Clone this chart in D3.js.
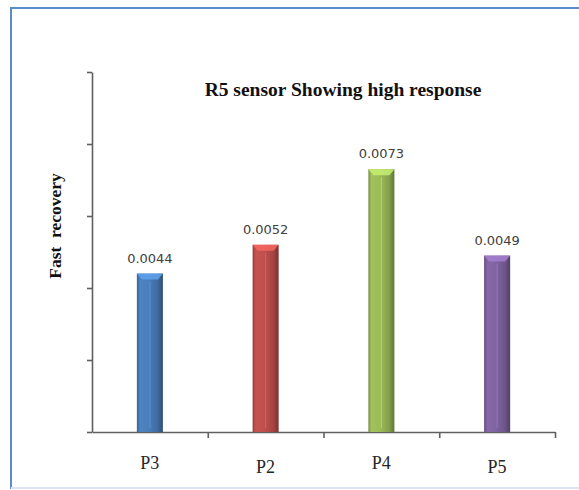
<!DOCTYPE html>
<html>
<head>
<meta charset="utf-8">
<script src="https://cdn.jsdelivr.net/npm/d3@7/dist/d3.min.js"></script>
<style>
  html, body { margin: 0; padding: 0; background: #ffffff; }
  svg { display: block; }
</style>
</head>
<body>
<script>
// Chart data
const categories = ["P3", "P2", "P4", "P5"];
const values = [0.0044, 0.0052, 0.0073, 0.0049];
const valueLabels = ["0.0044", "0.0052", "0.0073", "0.0049"];
const barColors = ["#4a7ebb", "#c0504d", "#9bbb59", "#8064a2"];
const yTicks = [0, 0.002, 0.004, 0.006, 0.008, 0.01];
const title = "R5 sensor Showing high response";
const yTitle = "Fast\u00a0\u00a0recovery";

const W = 579, H = 490;
const plot = { left: 92, right: 555, top: 72, bottom: 432 };

const svg = d3.select("body").append("svg")
  .attr("width", W).attr("height", H);

// Frame around the chart
svg.append("rect").attr("x", 0).attr("y", 0).attr("width", W).attr("height", H).attr("fill", "#fff");
svg.append("line").attr("x1", 11).attr("y1", 8).attr("x2", W).attr("y2", 8)
  .attr("stroke", "#5b8ccb").attr("stroke-width", 2);
svg.append("line").attr("x1", 11).attr("y1", 7).attr("x2", 11).attr("y2", 489)
  .attr("stroke", "#5b8ccb").attr("stroke-width", 2);
svg.append("line").attr("x1", 11).attr("y1", 488).attr("x2", W).attr("y2", 488)
  .attr("stroke", "#dbe5f1").attr("stroke-width", 2);

// Scales
const x = d3.scaleBand().domain(categories).range([plot.left, plot.right]).padding(0);
const xEdges = d3.scaleLinear().domain([0, categories.length]).range([plot.left, plot.right]);
const y = d3.scaleLinear().domain([0, 0.01]).range([plot.bottom, plot.top]);

const barW = x.bandwidth() * 0.225;

// Gradients for the bevelled bar look
const defs = svg.append("defs");
barColors.forEach((c, i) => {
  const base = d3.color(c);
  const g = defs.append("linearGradient").attr("id", "bar" + i)
    .attr("x1", "0").attr("x2", "1").attr("y1", "0").attr("y2", "0");
  g.append("stop").attr("offset", "0").attr("stop-color", base.darker(0.7));
  g.append("stop").attr("offset", "0.12").attr("stop-color", base.brighter(0.1));
  g.append("stop").attr("offset", "0.45").attr("stop-color", base);
  g.append("stop").attr("offset", "0.8").attr("stop-color", base.darker(0.45));
  g.append("stop").attr("offset", "1").attr("stop-color", base.darker(1.3));
});

// Axes
const axisColor = "#5f5f5f";
const yAxis = svg.append("g")
  .attr("transform", `translate(${plot.left},0)`)
  .call(d3.axisLeft(y).tickValues(yTicks).tickSize(5).tickSizeOuter(0).tickFormat(""));
const xAxis = svg.append("g")
  .attr("transform", `translate(0,${plot.bottom})`)
  .call(d3.axisBottom(xEdges).ticks(categories.length).tickSize(6).tickSizeOuter(0).tickFormat(""));
[yAxis, xAxis].forEach(a => {
  a.select(".domain").attr("stroke", axisColor).attr("stroke-width", 1.6);
  a.selectAll(".tick line").attr("stroke", axisColor).attr("stroke-width", 1.6);
});
xAxis.selectAll(".tick").filter(d => d === 0).remove();

// Bars
const bars = svg.append("g").selectAll("g").data(values).join("g");
bars.append("rect")
  .attr("x", (d, i) => x(categories[i]) + (x.bandwidth() - barW) / 2)
  .attr("y", d => y(d))
  .attr("width", barW)
  .attr("height", d => y(0) - y(d))
  .attr("fill", (d, i) => `url(#bar${i})`);
// bevelled top cap
bars.append("path")
  .attr("d", (d, i) => {
    const x0 = x(categories[i]) + (x.bandwidth() - barW) / 2, x1 = x0 + barW, t = y(d);
    return `M${x0},${t}L${x1},${t}L${x1 - 5},${t + 6}L${x0 + 5},${t + 6}Z`;
  })
  .attr("fill", (d, i) => d3.color(barColors[i]).brighter(0.7))
  .attr("opacity", 0.85);
// centre highlight line
bars.append("line")
  .attr("x1", (d, i) => x(categories[i]) + x.bandwidth() / 2)
  .attr("x2", (d, i) => x(categories[i]) + x.bandwidth() / 2)
  .attr("y1", d => y(d) + 8)
  .attr("y2", plot.bottom - 4)
  .attr("stroke", (d, i) => d3.color(barColors[i]).brighter(0.6))
  .attr("stroke-width", 1)
  .attr("opacity", 0.7);

// Value labels
bars.append("text")
  .attr("x", (d, i) => x(categories[i]) + x.bandwidth() / 2)
  .attr("y", d => y(d) - 11)
  .attr("text-anchor", "middle")
  .attr("font-family", "'DejaVu Sans', Verdana, sans-serif")
  .attr("font-size", 13)
  .attr("fill", "#404040")
  .text((d, i) => valueLabels[i]);

// Category labels
svg.append("g").selectAll("text").data(categories).join("text")
  .attr("x", d => x(d) + x.bandwidth() / 2)
  .attr("y", (d, i) => 469 + (i % 2) * 4)
  .attr("text-anchor", "middle")
  .attr("font-family", "'Liberation Serif', 'Times New Roman', serif")
  .attr("font-size", 18)
  .attr("fill", "#262626")
  .text(d => d);

// Title
svg.append("text")
  .attr("x", 343).attr("y", 96)
  .attr("text-anchor", "middle")
  .attr("font-family", "'Liberation Serif', 'Times New Roman', serif")
  .attr("font-weight", "bold")
  .attr("font-size", 19.5)
  .attr("fill", "#111")
  .text(title);

// Y axis title
svg.append("text")
  .attr("transform", "translate(61,226) rotate(-90)")
  .attr("text-anchor", "middle")
  .attr("font-family", "'Liberation Serif', 'Times New Roman', serif")
  .attr("font-weight", "bold")
  .attr("font-size", 17.5)
  .attr("fill", "#111")
  .text(yTitle);
</script>
</body>
</html>
